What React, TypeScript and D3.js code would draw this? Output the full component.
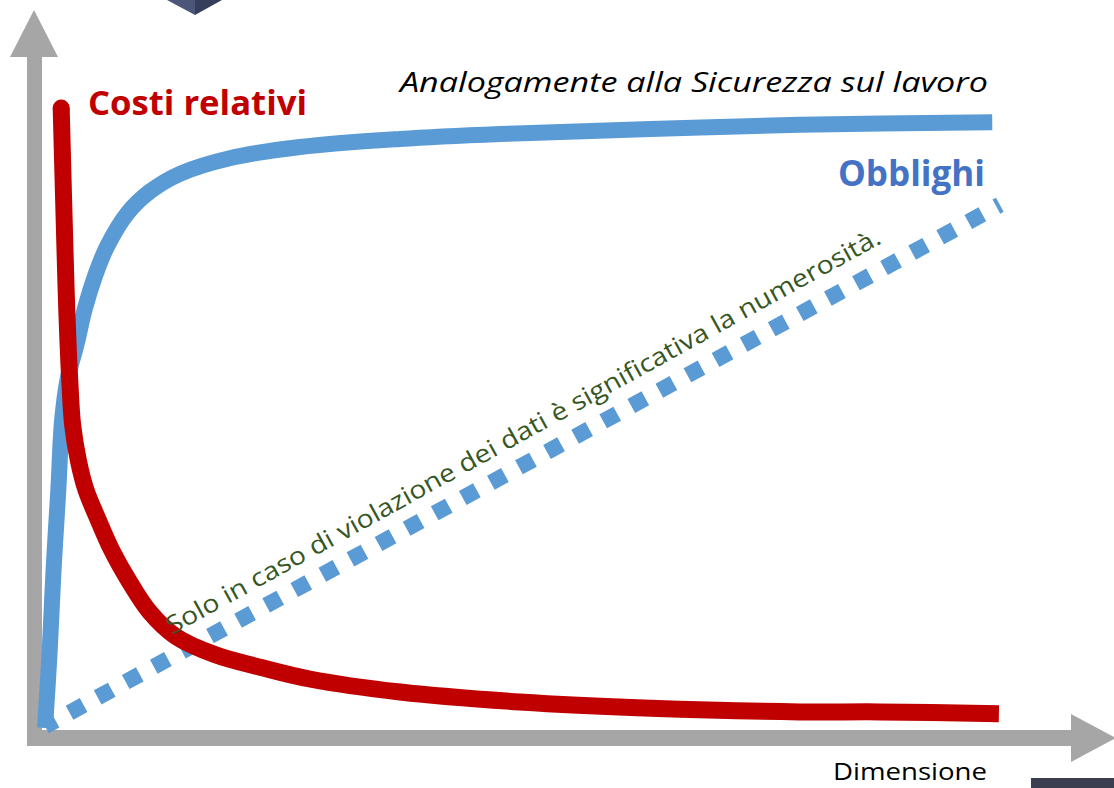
import React, { useEffect, useRef } from "react";
import * as d3 from "d3";

// Obblighi (blue) curve, x = dimensione, y = level (0..100)
const obblighiX = [0, 0.5, 0.9, 1.4, 1.8, 2.4, 3.3, 4.2, 5.3, 6.5, 8.7, 11.0, 14.2, 19.4, 26.8, 37.3, 47.8, 63.6, 79.3, 99.5];
const obblighiY = [0, 12.6, 25.5, 38.4, 49.7, 56.5, 61.8, 67.7, 73.1, 77.6, 83.1, 86.5, 89.4, 91.9, 93.7, 95.0, 95.8, 96.6, 97.3, 97.7];

// Costi relativi (red) curve
const costiX = [1.7, 1.9, 2.1, 2.3, 2.6, 2.9, 3.5, 4.3, 5.5, 7.0, 8.9, 11.0, 13.7, 17.9, 22.6, 27.8, 37.3, 49.9, 63.6, 79.3, 87.7, 100.2];
const costiY = [100, 88.4, 77.1, 66.9, 56.1, 48.9, 43.2, 38.4, 33.9, 28.7, 23.5, 18.7, 14.8, 11.8, 9.8, 7.9, 5.8, 4.2, 3.2, 2.6, 2.6, 2.3];

// dotted "violazione dei dati" line
const violazioneX = [0, 100.3];
const violazioneY = [0.3, 84.4];

const labels = {
  costi: "Costi relativi",
  obblighi: "Obblighi",
  titolo: "Analogamente alla Sicurezza sul lavoro",
  asse: "Dimensione",
  violazione: "Solo in caso di violazione dei dati è significativa la numerosità.",
};

const W = 1114;
const H = 788;
const FONT = "'Open Sans', 'Noto Sans', sans-serif";

const App = () => {
  const ref = useRef<SVGSVGElement>(null);

  useEffect(() => {
    const svg = d3.select(ref.current);
    svg.selectAll("*").remove();

    const x = d3.scaleLinear().domain([0, 100]).range([45, 997]);
    const y = d3.scaleLinear().domain([0, 100]).range([728, 108]);

    const line = d3
      .line<[number, number]>()
      .x((d) => x(d[0]))
      .y((d) => y(d[1]))
      .curve(d3.curveCatmullRom.alpha(0.5));

    const axisColor = "#a6a6a6";

    // top-left decoration
    svg.append("polygon").attr("points", "167,0 195,0 195,15").attr("fill", "#4b5679");
    svg.append("polygon").attr("points", "195,0 222,0 195,15").attr("fill", "#353f5c");
    // bottom-right decoration
    svg.append("rect").attr("x", 1031).attr("y", 778).attr("width", 83).attr("height", 10).attr("fill", "#3b3e4e");

    // axes
    svg.append("rect").attr("x", 27).attr("y", 55).attr("width", 15).attr("height", 691).attr("fill", axisColor);
    svg.append("polygon").attr("points", "34,10 58,57 10,57").attr("fill", axisColor);
    svg.append("rect").attr("x", 27).attr("y", 730).attr("width", 1046).attr("height", 16).attr("fill", axisColor);
    svg.append("polygon").attr("points", "1071,714 1116,738 1071,762").attr("fill", axisColor);

    // dotted line
    const dotted = d3.zip(violazioneX, violazioneY) as [number, number][];
    svg
      .append("path")
      .attr("d", d3.line<[number, number]>().x((d) => x(d[0])).y((d) => y(d[1]))(dotted))
      .attr("fill", "none")
      .attr("stroke", "#5b9bd5")
      .attr("stroke-width", 16)
      .attr("stroke-dasharray", "16 16")
      .attr("stroke-dashoffset", 4);

    // blue curve
    const blue = d3.zip(obblighiX, obblighiY) as [number, number][];
    svg
      .append("path")
      .attr("d", line(blue))
      .attr("fill", "none")
      .attr("stroke", "#5b9bd5")
      .attr("stroke-width", 16);

    // red curve
    const red = d3.zip(costiX, costiY) as [number, number][];
    svg
      .append("path")
      .attr("d", line(red))
      .attr("fill", "none")
      .attr("stroke", "#c00000")
      .attr("stroke-width", 17);
    svg
      .append("circle")
      .attr("cx", x(costiX[0]))
      .attr("cy", y(costiY[0]))
      .attr("r", 8.5)
      .attr("fill", "#c00000");

    // texts
    svg
      .append("text")
      .attr("x", 88)
      .attr("y", 115)
      .attr("font-family", FONT)
      .attr("font-weight", 700)
      .attr("font-size", 34)
      .attr("fill", "#c00000")
      .attr("textLength", 219)
      .attr("lengthAdjust", "spacingAndGlyphs")
      .text(labels.costi);

    svg
      .append("text")
      .attr("x", 400)
      .attr("y", 92)
      .attr("font-family", FONT)
      .attr("font-style", "italic")
      .attr("font-size", 28)
      .attr("fill", "#000")
      .attr("textLength", 588)
      .attr("lengthAdjust", "spacingAndGlyphs")
      .text(labels.titolo);

    svg
      .append("text")
      .attr("x", 838)
      .attr("y", 186)
      .attr("font-family", FONT)
      .attr("font-weight", 700)
      .attr("font-size", 36)
      .attr("fill", "#4472c4")
      .attr("textLength", 147)
      .attr("lengthAdjust", "spacingAndGlyphs")
      .text(labels.obblighi);

    svg
      .append("text")
      .attr("x", 833)
      .attr("y", 780)
      .attr("font-family", FONT)
      .attr("font-size", 24)
      .attr("fill", "#000")
      .attr("textLength", 154)
      .attr("lengthAdjust", "spacingAndGlyphs")
      .text(labels.asse);

    svg
      .append("text")
      .attr("transform", "translate(172,635) rotate(-28.9)")
      .attr("font-family", FONT)
      .attr("font-size", 25)
      .attr("fill", "#375623")
      .attr("textLength", 812)
      .attr("lengthAdjust", "spacingAndGlyphs")
      .text(labels.violazione);
  }, []);

  return (
    <svg
      ref={ref}
      width={W}
      height={H}
      style={{ position: "absolute", left: 0, top: 0, background: "#fff" }}
    ></svg>
  );
};

export default App;
